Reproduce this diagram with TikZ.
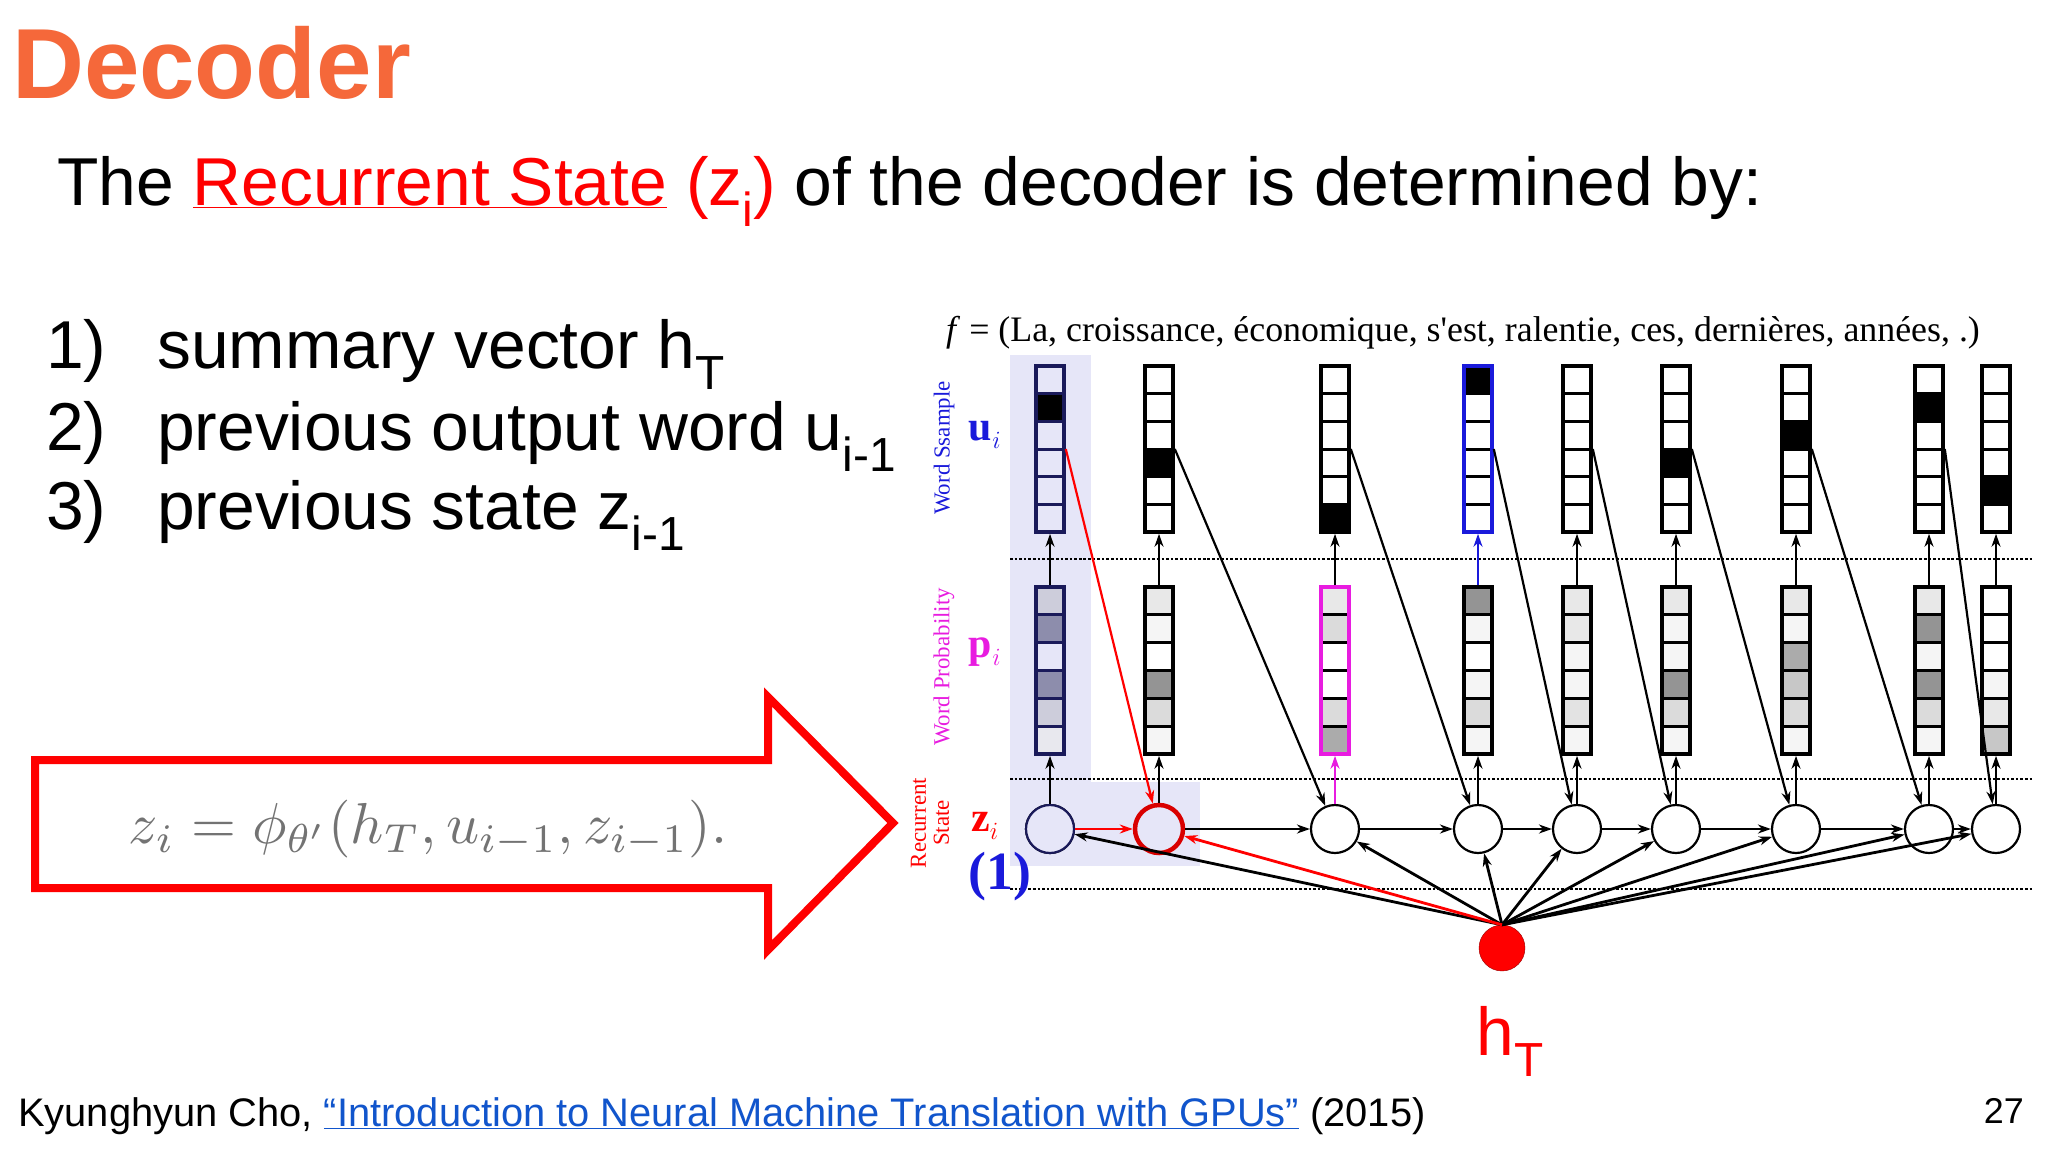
\documentclass[tikz,border=0pt]{standalone}
\usepackage{fontspec}
\setmainfont{Liberation Sans}
\newfontfamily\serifx{Liberation Serif}
\usetikzlibrary{arrows.meta,shapes.geometric}
\definecolor{orng}{HTML}{F5683A}
\definecolor{lav}{HTML}{E6E6F8}
\definecolor{navy}{HTML}{1A1A5A}
\definecolor{lnk}{HTML}{1155CC}
\definecolor{mag}{HTML}{E81CE0}
\definecolor{blu}{HTML}{1A1ADB}
\newcommand{\sbx}[1]{\raisebox{-0.32em}{\fontsize{48}{50}\selectfont #1}}
\tikzset{
  colbox/.style={draw,line width=3.6bp,minimum width=28bp,inner sep=0pt,fill=none},
  zc/.style={circle,draw,line width=2.2bp,minimum size=48bp,inner sep=0pt,fill=white},
  arr/.style={-{Stealth[length=13bp,width=9bp,open]},line width=2.2bp},
  dotl/.style={dotted,line width=2.6bp},
}
\begin{document}
\begin{tikzpicture}[x=1bp,y=-1bp]
\useasboundingbox (0,0) rectangle (2048,1152);
\fill[white] (0,0) rectangle (2048,1152);
% titles
\node[anchor=base west,text=orng,font=\bfseries\fontsize{100}{110}\selectfont,inner sep=0] (title) at (12,98) {Decoder};
\node[anchor=base west,font=\fontsize{68}{80}\selectfont,inner sep=0] (sub) at (57,205) {The \textcolor{red}{\underline{Recurrent State}} \textcolor{red}{(z\sbx{i})} of the decoder is determined by:};
\node[anchor=base west,font=\fontsize{68}{80}\selectfont,inner sep=0] (l1n) at (46,368) {1)};
\node[anchor=base west,font=\fontsize{68}{80}\selectfont,inner sep=0] (l1) at (157,368) {summary vector h\sbx{T}};
\node[anchor=base west,font=\fontsize{68}{80}\selectfont,inner sep=0] (l2n) at (46,450) {2)};
\node[anchor=base west,font=\fontsize{68}{80}\selectfont,inner sep=0] (l2) at (157,450) {previous output word u\sbx{i-1}};
\node[anchor=base west,font=\fontsize{68}{80}\selectfont,inner sep=0] (l3n) at (46,529) {3)};
\node[anchor=base west,font=\fontsize{68}{80}\selectfont,inner sep=0] (l3) at (157,529) {previous state z\sbx{i-1}};
% big arrow
\draw[red,line width=8bp,line join=miter] (35,760) -- (768,760) -- (768,697) -- (893,823) -- (768,950) -- (768,888) -- (35,888) -- cycle;
\node[text=black!55,inner sep=0] (eq) at (428,829) {\scalebox{5.8}{$z_i = \phi_{\theta'}(h_T, u_{i-1}, z_{i-1}).$}};
% footer
\node[anchor=base west,font=\fontsize{40}{45}\selectfont,inner sep=0] (foot) at (18,1126) {Kyunghyun Cho, \textcolor{lnk}{\underline{“Introduction to Neural Machine Translation with GPUs”}} (2015)};
\node[anchor=base east,font=\fontsize{36}{40}\selectfont,inner sep=0] (pg) at (2024,1123) {27};
% diagram
\fill[lav] (1010,355) rectangle (1091,782);
\fill[lav] (1010,782) rectangle (1200,866);
\node[font=\serifx\fontsize{36}{38}\selectfont,anchor=west,inner sep=0] (f) at (946,333) {\textit{f} = (La, croissance, économique, s'est, ralentie, ces, dernières, années, .)};
\foreach \yy in {559,779,889} \draw[dotl] (1010,\yy) -- (2032,\yy);
\node[rotate=90,text=blu,font=\serifx\fontsize{23}{24}\selectfont] (ws) at (944,448) {Word Ssample};
\node[text=blu,font=\serifx\bfseries\fontsize{42}{44}\selectfont] (ul) at (985,435) {u\textit{\mdseries$_i$}};
\node[rotate=90,text=mag,font=\serifx\fontsize{23}{24}\selectfont] (wp) at (944,667) {Word Probability};
\node[text=mag,font=\serifx\bfseries\fontsize{42}{44}\selectfont] (pl) at (985,652) {p\textit{\mdseries$_i$}};
\node[rotate=90,text=red,align=center,font=\serifx\fontsize{23}{23}\selectfont] (rs) at (930,823) {Recurrent\\State};
\node[text=red,font=\serifx\bfseries\fontsize{42}{44}\selectfont] (zl) at (985,826) {z\textit{\mdseries$_i$}};
\node[text=blu,font=\serifx\bfseries\fontsize{54}{58}\selectfont] (one) at (1000,877) {(1)};
% columns
\foreach \i/\x/\ub/\pa/\pb/\pc/\pd/\pe/\pf/\cc/\ucl/\pcl in {
 1/1050/2/navy!22/navy!50/lav/navy!50/navy!22/navy!10/navy/navy/navy,
 2/1159/4/black!9/black!4/white/black!42/black!14/black!4/black/black/black,
 3/1335/6/black!9/black!14/white/white/black!14/black!33/mag/black/black,
 4/1478/1/black!42/black!4/white/black!4/black!14/black!4/blu/black/black,
 5/1577/0/black!9/black!9/black!4/black!4/black!11/black!4/black/black/black,
 6/1676/4/black!9/black!4/black!4/black!42/black!14/black!4/black/black/black,
 7/1796/3/black!9/black!4/black!33/black!22/black!14/black!4/black/black/black,
 8/1929/2/black!9/black!42/black!4/black!42/black!14/black!4/black/black/black,
 9/1996/5/white/white/white/black!4/black!9/black!22/black/black/black}{
  \ifnum\i=3 \def\ucc{black}\def\pbc{mag}\else\ifnum\i=4 \def\ucc{blu}\def\pbc{black}\else\edef\ucc{\cc}\edef\pbc{\cc}\fi\fi
  \ifnum\i=1 \def\bgc{lav}\else\def\bgc{white}\fi
  \foreach \k in {1,...,6}{
    \pgfmathsetmacro\yt{366+(\k-1)*27.7}
    \ifnum\k=\ub \def\fc{black}\else\let\fc\bgc\fi
    \fill[\fc] (\x-14,\yt) rectangle ++(28,27.7);
    \draw[line width=3bp,\ucl] (\x-14,\yt) -- ++(28,0);
  }
  \node[colbox,draw=\ucc,minimum height=166bp] (u\i) at (\x,449) {};
  \foreach \k/\col in {1/\pa,2/\pb,3/\pc,4/\pd,5/\pe,6/\pf}{
    \pgfmathsetmacro\yt{587+(\k-1)*27.8}
    \fill[\col] (\x-14,\yt) rectangle ++(28,27.8);
    \draw[line width=3bp,\pcl] (\x-14,\yt) -- ++(28,0);
  }
  \node[colbox,draw=\pbc,minimum height=167bp] (p\i) at (\x,670.5) {};
  \node[zc] (z\i) at (\x,829) {};
}
\node[zc,draw=navy,fill=lav] (z1) at (1050,829) {};
\node[zc,draw=red!85!black,line width=4.5bp,fill=lav] (z2) at (1159,829) {};
\foreach \i in {1,2,4,5,6,7,8,9} \draw[arr] (z\i) -- (p\i);
\draw[arr,mag] (z3) -- (p3);
\foreach \i in {1,2,3,5,6,7,8,9} \draw[arr] (p\i) -- (u\i);
\draw[arr,blu] (p4) -- (u4);
\draw[arr,red,line width=2.8bp] (z1) -- (z2);
\foreach \i/\j in {2/3,3/4,4/5,5/6,6/7,7/8,8/9} \draw[arr,line width=2.8bp] (z\i) -- (z\j);
\draw[arr,red] (u1.east) -- (z2);
\foreach \i/\j in {2/3,3/4,4/5,5/6,6/7,7/8,8/9} \draw[arr] (u\i.east) -- (z\j);
\node[circle,draw=red!60!black,fill=red,minimum size=46bp,inner sep=0] (hT) at (1502,948) {};
\node[anchor=base,text=red,font=\fontsize{68}{80}\selectfont,inner sep=0] (hTl) at (1510,1055) {h\sbx{T}};
\foreach \i in {1,3,4,5,6,7,8,9} \draw[arr,line width=2.8bp] (hT.north) -- (z\i);
\draw[arr,red,line width=2.8bp] (hT.north) -- (z2);
\end{tikzpicture}
\end{document}
